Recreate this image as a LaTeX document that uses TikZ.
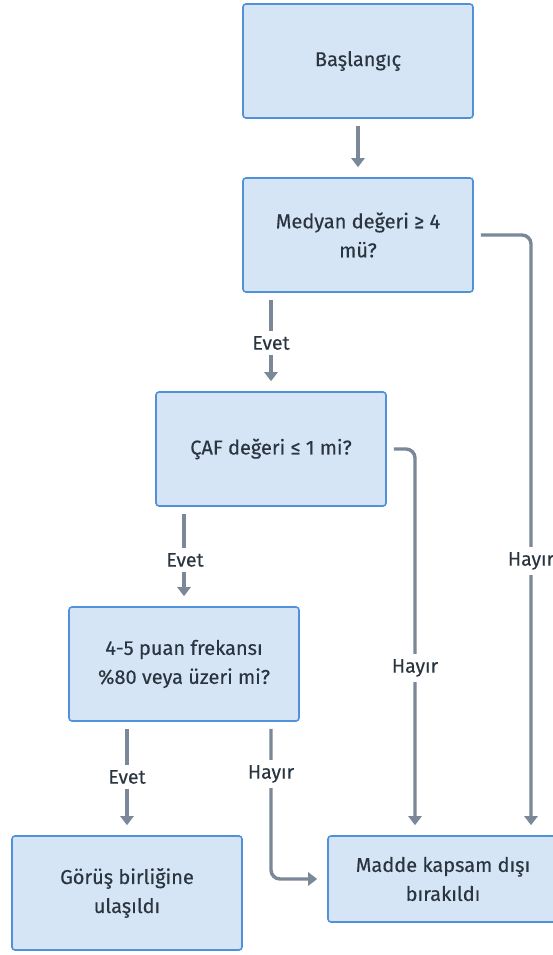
\documentclass[tikz,border=0pt]{standalone}
\usepackage{fontspec}
\setmainfont{Fira Sans}[UprightFeatures={FakeBold=0.3}]
\usetikzlibrary{arrows.meta,calc}
\definecolor{boxfill}{HTML}{D5E5F5}
\definecolor{boxline}{HTML}{4F92DA}
\definecolor{linkgray}{HTML}{7A8898}
\definecolor{inkdark}{HTML}{2B3540}
\begin{document}
\begin{tikzpicture}[x=1pt,y=-1pt,
  stepbox/.style={draw=boxline, fill=boxfill, line width=1.6pt, rounded corners=3pt,
    minimum width=230pt, minimum height=114pt, align=center, text=inkdark,
    font=\fontsize{20}{29}\selectfont, inner sep=0pt},
  link/.style={draw=linkgray, line width=3.4pt, rounded corners=9pt,
    -{Triangle[length=9pt,width=13pt]}, shorten <=7pt, shorten >=10pt},
  lbl/.style={fill=white, text=inkdark, font=\fontsize{19.5}{22}\selectfont,
    inner xsep=2pt, inner ysep=5pt}]
\useasboundingbox (0,0) rectangle (553,955);
\fill[white] (0,0) rectangle (553,955);

% boxes
\node[stepbox] (b1) at (358,61) {Başlangıç};
\node[stepbox] (b2) at (358,235) {Medyan değeri ≥ 4\\mü?};
\node[stepbox] (b3) at (271,449) {ÇAF değeri ≤ 1 mi?};
\node[stepbox] (b4) at (184,664) {4-5 puan frekansı\\\%80 veya üzeri mi?};
\node[stepbox] (b5) at (127,893) {Görüş birliğine\\ulaşıldı};
\node[stepbox, minimum height=86pt] (b6) at (443,879) {Madde kapsam dışı\\bırakıldı};

% connectors
\draw[link] (b1) -- (b2);
\draw[link] (b3.north |- b2.south) -- (b3.north);
\draw[link] (b2.east) -| ([xshift=88pt]b6.north);
\draw[link] (b4.north |- b3.south) -- (b4.north);
\draw[link] (b3.east) -| ([xshift=-28pt]b6.north);
\draw[link] (b4.south -| b5.north) -- (b5.north);
\draw[link] ([xshift=87pt]b4.south) |- (b6.west);

% branch labels
\node[lbl] (l1) at (271,343) {Evet};
\node[lbl] (l2) at (531,561) {Hayır};
\node[lbl] (l3) at (185,560) {Evet};
\node[lbl] (l4) at (415,668) {Hayır};
\node[lbl] (l5) at (127,777) {Evet};
\node[lbl] (l6) at (271,774) {Hayır};
\end{tikzpicture}
\end{document}
